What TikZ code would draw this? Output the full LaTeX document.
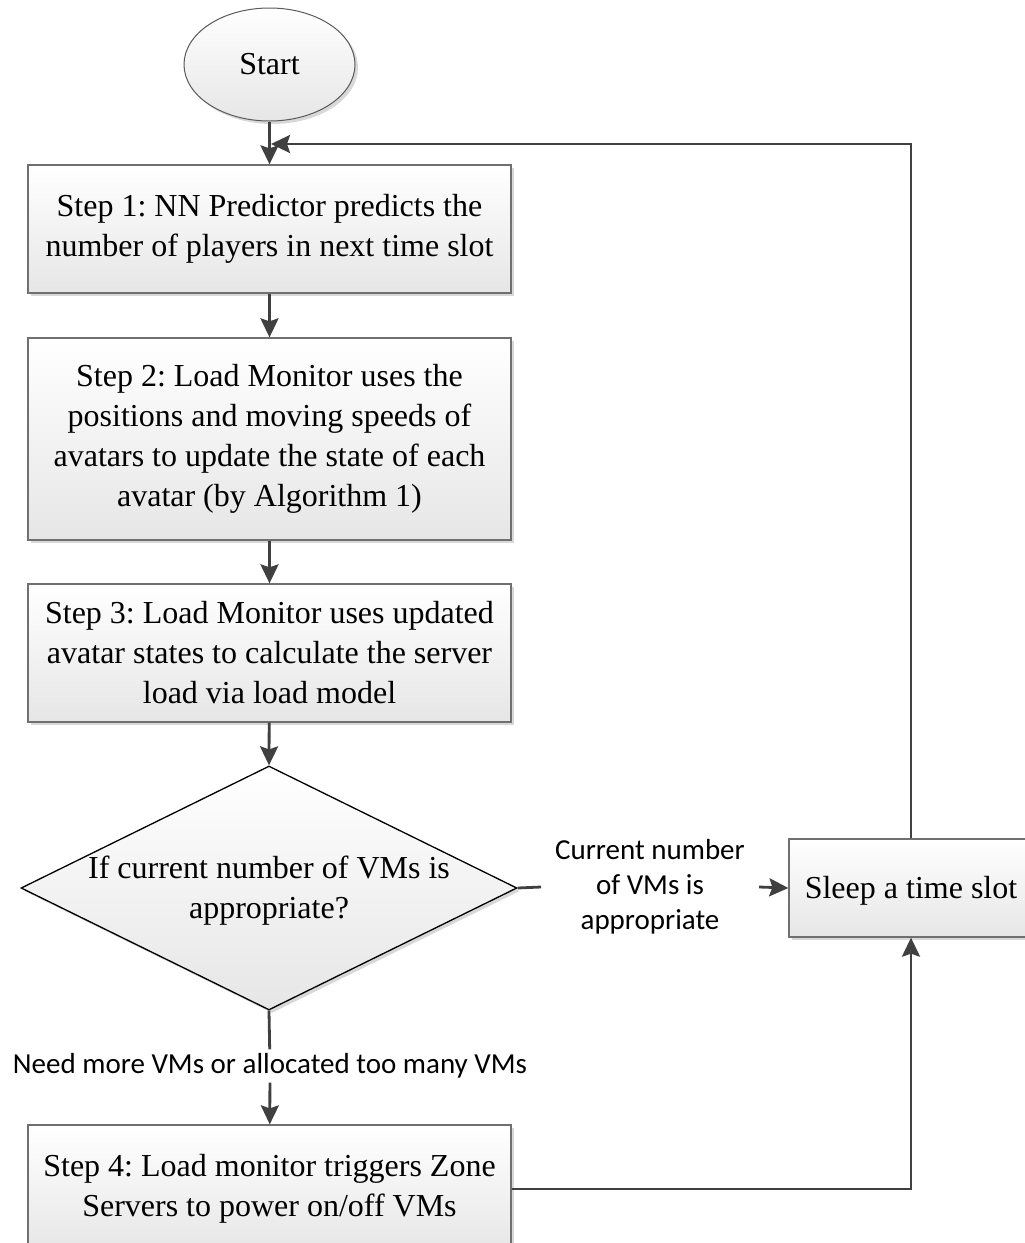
\documentclass[tikz,border=0pt]{standalone}
\usepackage{fontspec}
\setmainfont{Liberation Serif}
\newfontfamily\labelfont{Carlito}
\usetikzlibrary{shapes.geometric,arrows.meta,shadows}

\definecolor{linegray}{HTML}{404040}
\definecolor{boxgray}{HTML}{707070}
\definecolor{shadegray}{HTML}{E6E6E6}
\definecolor{shadowgray}{HTML}{D8D8D8}

\begin{document}
\frenchspacing
\begin{tikzpicture}[x=1pt,y=-1pt,
  conn/.style={draw=linegray, line width=2.8pt},
  arr/.style={conn, -{Stealth[length=19pt,width=18pt,inset=3pt]}},
  shaded/.style={top color=white, bottom color=shadegray,
    drop shadow={shadow xshift=3pt, shadow yshift=-3pt, fill=shadowgray, opacity=1}},
  % lowers the text block inside a box by #1 (taller first line)
  textdown/.style={execute at begin node={\rule{0pt}{\dimexpr 22pt+2\dimexpr #1\relax\relax}}},
  stepbox/.style={rectangle, shaded, draw=boxgray, line width=1.3pt,
    minimum width=483pt, inner sep=0pt, align=center,
    font=\fontsize{32}{40}\selectfont},
  startnode/.style={ellipse, shaded, draw=boxgray!80!black, line width=1pt,
    minimum width=171pt, minimum height=113pt, inner sep=0pt,
    font=\fontsize{32}{40}\selectfont},
  decision/.style={diamond, shaded, draw=black, line width=1.3pt,
    minimum width=496pt, minimum height=244pt, aspect=2.03, inner sep=0pt},
  plain/.style={align=center, inner sep=0pt, font=\fontsize{32}{40}\selectfont},
  lbl/.style={align=center, inner xsep=14pt, inner ysep=4pt,
    font=\labelfont\fontsize{29}{35}\selectfont}
]
\useasboundingbox (0,0) rectangle (1025,1243);
\clip (0,0) rectangle (1025,1243);

% process nodes
\node[startnode] (start) at (269.5,64.5) {Start};
\node[stepbox, minimum height=128pt, textdown=7pt] (b1) at (269.5,229)
  {Step 1: NN Predictor predicts the\\number of players in next time slot};
\node[stepbox, minimum height=202pt, textdown=6pt] (b2) at (269.5,439)
  {Step 2: Load Monitor uses the\\positions and moving speeds of\\avatars to update the state of each\\avatar (by Algorithm 1)};
\node[stepbox, minimum height=138pt, textdown=3pt] (b3) at (269.5,653)
  {Step 3: Load Monitor uses updated\\avatar states to calculate the server\\load via load model};
\node[decision] (dec) at (269,888) {};
\node[plain] (dectext) at (269,891) {If current number of VMs is\\appropriate?};
\node[stepbox, minimum width=244pt, minimum height=98pt, textdown=3pt] (sleep) at (911,888)
  {Sleep a time slot};
\node[stepbox, minimum height=128pt] (b4) at (269.5,1189)
  {Step 4: Load monitor triggers Zone\\Servers to power on/off VMs};

% branch labels
\node[lbl] (cur) at (650,887) {Current number\\of VMs is\\appropriate};
\node[lbl] (need) at (270,1066) {Need more VMs or allocated too many VMs};

% connectors
\coordinate (join) at (271,144);
\draw[arr] (start) -- (b1);
\draw[arr] (b1) -- (b2);
\draw[arr] (b2) -- (b3);
\draw[arr] (b3) -- (dec.north);
\draw[conn] (dec.south) -- (need);
\draw[arr] (need) -- (b4);
\draw[conn] (dec.east) -- (cur.west);
\draw[arr] (cur.east) -- (sleep.west);
\draw[arr] (sleep.north) |- (join);
\draw[arr] (b4.east) -| (sleep.south);
\end{tikzpicture}
\end{document}
